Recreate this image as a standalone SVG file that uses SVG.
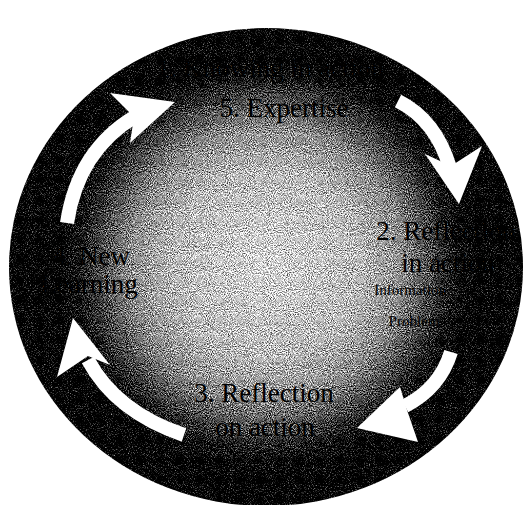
<svg xmlns="http://www.w3.org/2000/svg" width="528" height="505" viewBox="0 0 528 505">
  <defs>
    <radialGradient id="glow" gradientUnits="userSpaceOnUse" cx="266" cy="264" r="250">
      <stop offset="0" stop-color="#f2f2f2"/>
      <stop offset="0.38" stop-color="#d2d2d2"/>
      <stop offset="0.55" stop-color="#a2a2a2"/>
      <stop offset="0.67" stop-color="#5c5c5c"/>
      <stop offset="0.76" stop-color="#1e1e1e"/>
      <stop offset="0.84" stop-color="#000"/>
      <stop offset="1" stop-color="#000"/>
    </radialGradient>
    <filter id="grain" x="0" y="0" width="100%" height="100%" color-interpolation-filters="sRGB">
      <feTurbulence type="fractalNoise" baseFrequency="0.95" numOctaves="2" seed="7" result="noise"/>
      <feColorMatrix in="noise" type="matrix" values="1 0 0 0 0  1 0 0 0 0  1 0 0 0 0  0 0 0 0 1" result="gray"/>
      <feComposite in="SourceGraphic" in2="gray" operator="arithmetic" k1="0" k2="1" k3="1.8" k4="-1.0" result="mix"/>
      <feComposite in="mix" in2="SourceGraphic" operator="in"/>
    </filter>
    <style>
      .lbl { font-family: "Liberation Serif", "Times New Roman", serif; fill: #000; text-anchor: middle; }
      .big { font-size: 27px; }
      .small { font-size: 15px; }
      .shaft { fill: none; stroke: #fff; stroke-width: 14; }
      .head { fill: #fff; }
    </style>
  </defs>

  <rect width="528" height="505" fill="#fff"/>

  <g id="background">
    <ellipse cx="266" cy="267" rx="257" ry="239" fill="url(#glow)" filter="url(#grain)"/>
  </g>

  <g id="node-knowing">
    <text class="lbl big" x="270" y="77">1. Knowing in action</text>
  </g>

  <g id="node-reflection-in-action">
    <text class="lbl big" x="446" y="240">2. Reflection</text>
    <text class="lbl big" x="448" y="272">in action</text>
    <text class="lbl small" x="410" y="295">Information</text>
    <text class="lbl small" x="414" y="326">Problem</text>
  </g>

  <g id="node-reflection-on-action">
    <text class="lbl big" x="264" y="402">3. Reflection</text>
    <text class="lbl big" x="265" y="436">on action</text>
  </g>

  <g id="node-new-learning">
    <text class="lbl big" x="91" y="265">4. New</text>
    <text class="lbl big" x="89" y="293">Learning</text>
  </g>

  <g id="node-expertise">
    <text class="lbl big" x="284" y="117">5. Expertise</text>
  </g>

  <g id="connectors">
    <path class="shaft" d="M398,101 Q436,120 450,168"/>
    <polygon class="head" points="425,154 459,204 482,146 451,166"/>
    <path class="shaft" d="M451,352 Q440,388 405,406"/>
    <polygon class="head" points="400,387 357,428 418,442 407,410"/>
    <path class="shaft" d="M184,435 Q116,412 88,360"/>
    <polygon class="head" points="57,377 73,318 110,365 88,356"/>
    <path class="shaft" d="M67,223 Q78,150 136,116"/>
    <polygon class="head" points="110,93 175,102 130,143 134,117"/>
  </g>
</svg>
